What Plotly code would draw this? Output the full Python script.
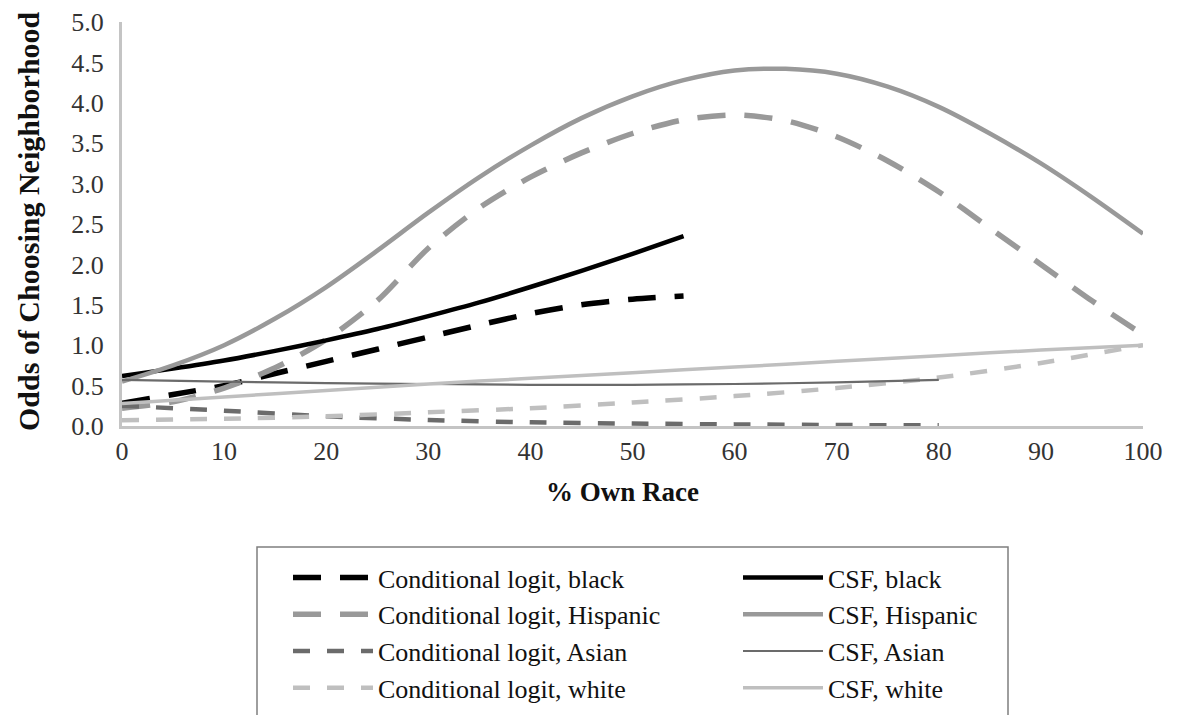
import plotly.graph_objects as go

# ---- data ----
x5_100 = [0, 5, 10, 15, 20, 25, 30, 35, 40, 45, 50, 55, 60, 65, 70, 75, 80, 85, 90, 95, 100]
x5_55 = [0, 5, 10, 15, 20, 25, 30, 35, 40, 45, 50, 55]
x10_100 = [0, 10, 20, 30, 40, 50, 60, 70, 80, 90, 100]
x10_80 = [0, 10, 20, 30, 40, 50, 60, 70, 80]

cl_black = [0.28, 0.39, 0.50, 0.65, 0.80, 0.95, 1.10, 1.25, 1.39, 1.50, 1.57, 1.61]
cl_hispanic = [0.22, 0.30, 0.47, 0.72, 1.07, 1.55, 2.20, 2.70, 3.08, 3.38, 3.62, 3.79,
               3.85, 3.78, 3.58, 3.28, 2.90, 2.45, 2.00, 1.55, 1.13]
cl_asian = [0.25, 0.19, 0.12, 0.075, 0.045, 0.03, 0.02, 0.012, 0.008]
cl_white = [0.07, 0.09, 0.12, 0.17, 0.22, 0.29, 0.37, 0.47, 0.60, 0.78, 1.00]

csf_black = [0.62, 0.71, 0.81, 0.93, 1.06, 1.20, 1.36, 1.53, 1.72, 1.92, 2.13, 2.35]
csf_hispanic = [0.55, 0.75, 1.00, 1.33, 1.72, 2.17, 2.64, 3.08, 3.47, 3.81, 4.08, 4.28,
                4.40, 4.42, 4.36, 4.20, 3.95, 3.62, 3.25, 2.83, 2.38]
csf_asian = [0.57, 0.55, 0.53, 0.52, 0.51, 0.51, 0.52, 0.54, 0.57]
csf_white = [0.28, 0.36, 0.44, 0.52, 0.59, 0.66, 0.73, 0.80, 0.87, 0.94, 1.00]

y_ticks = [0, 0.5, 1, 1.5, 2, 2.5, 3, 3.5, 4, 4.5, 5]
x_ticks = [0, 10, 20, 30, 40, 50, 60, 70, 80, 90, 100]

FONT = "Liberation Serif"
BLACK = "#000000"
HISP = "#999999"
ASIAN = "#6b6b6b"
WHITE = "#bfbfbf"
LONG = "28px,19px"
SHORT = "17px,17px"

# page body has an 8px default margin; the figure is sized to fill the rest
W, H = 1175, 707
L, T, PW, PH = 114, 14, 1021, 404

series = [
    # name, x, y, color, width, dash, legend
    ("Conditional logit, black", x5_55, cl_black, BLACK, 5.5, LONG, "legend"),
    ("Conditional logit, Hispanic", x5_100, cl_hispanic, HISP, 5.5, LONG, "legend"),
    ("Conditional logit, Asian", x10_80, cl_asian, ASIAN, 4.5, SHORT, "legend"),
    ("Conditional logit, white", x10_100, cl_white, WHITE, 4.5, SHORT, "legend"),
    ("CSF, black", x5_55, csf_black, BLACK, 4.5, "solid", "legend2"),
    ("CSF, Hispanic", x5_100, csf_hispanic, HISP, 4.5, "solid", "legend2"),
    ("CSF, Asian", x10_80, csf_asian, ASIAN, 2.2, "solid", "legend2"),
    ("CSF, white", x10_100, csf_white, WHITE, 3.5, "solid", "legend2"),
]

fig = go.Figure()
for name, xs, ys, color, width, dash, leg in series:
    fig.add_trace(go.Scatter(
        x=xs, y=ys, name=name, mode="lines",
        line=dict(color=color, width=width, dash=dash, shape="spline", smoothing=0.8),
        legend=leg,
    ))

legend_common = dict(
    font=dict(family=FONT, size=26, color="#111111"),
    bgcolor="rgba(0,0,0,0)",
    xref="container", yref="container",
    xanchor="left", yanchor="top",
    traceorder="normal",
    itemwidth=80,
)

def px_x(p):  # figure pixel -> paper x
    return (p - L) / PW

def px_y(p):  # figure pixel -> paper y
    return (T + PH - p) / PH

fig.update_layout(
    width=W, height=H,
    margin=dict(l=L, r=W - L - PW, t=T, b=H - T - PH, autoexpand=False),
    paper_bgcolor="white", plot_bgcolor="white",
    font=dict(family=FONT, color="#333333"),
    showlegend=True,
    legend=dict(x=280 / W, y=1 - 546 / H, **legend_common),
    legend2=dict(x=730 / W, y=1 - 546 / H, **legend_common),
    xaxis=dict(
        range=[0, 100], tickvals=x_ticks, ticktext=[str(v) for v in x_ticks],
        showgrid=False, zeroline=False,
        showline=True, linecolor="#c4c4c4", linewidth=3,
        ticks="", ticklabelstandoff=0,
        tickfont=dict(family=FONT, size=26, color="#333333"),
    ),
    yaxis=dict(
        range=[0, 5], tickvals=y_ticks, ticktext=[f"{v:.1f}" for v in y_ticks],
        showgrid=False, zeroline=False,
        showline=True, linecolor="#c4c4c4", linewidth=3,
        ticks="", ticklabelstandoff=10,
        tickfont=dict(family=FONT, size=26, color="#333333"),
    ),
    annotations=[
        dict(text="<b>Odds of Choosing Neighborhood</b>", xref="paper", yref="paper",
             x=px_x(20), y=px_y(213), textangle=-90, showarrow=False,
             xanchor="center", yanchor="middle",
             font=dict(family=FONT, size=30, color="#111111")),
        dict(text="<b>% Own Race</b>", xref="paper", yref="paper",
             x=px_x(614), y=px_y(484), showarrow=False,
             xanchor="center", yanchor="middle",
             font=dict(family=FONT, size=27, color="#111111")),
    ],
    shapes=[dict(
        type="rect", xref="paper", yref="paper",
        x0=px_x(249), x1=px_x(1000),
        y0=px_y(712), y1=px_y(539),
        line=dict(color="#7f7f7f", width=1.5), fillcolor="rgba(0,0,0,0)",
        layer="below",
    )],
)

fig.write_html("out.html")
